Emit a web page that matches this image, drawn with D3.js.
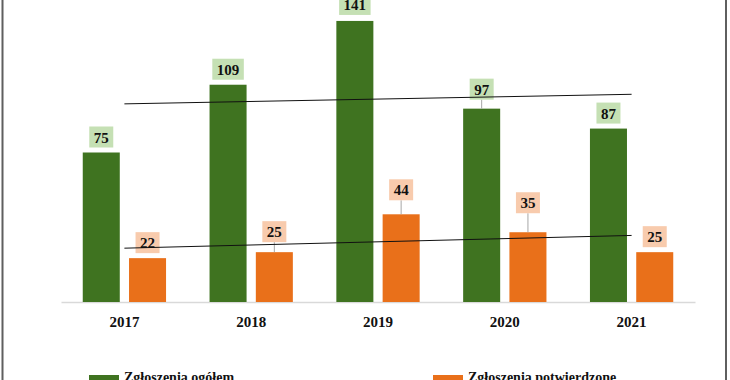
<!DOCTYPE html>
<html>
<head>
<meta charset="utf-8">
<script src="https://cdn.jsdelivr.net/npm/d3@7"></script>
<style>
  body { margin: 0; background: #fff; }
  svg text { font-family: "Liberation Serif", "Times New Roman", serif; font-weight: bold; }
</style>
</head>
<body>
<div id="vis"></div>
<script>
// data
const years = ['2017', '2018', '2019', '2020', '2021'];
const seriesNames = ['Zgłoszenia ogółem', 'Zgłoszenia potwierdzone'];
const totalReports = [75, 109, 141, 97, 87];
const confirmedReports = [22, 25, 44, 35, 25];

const width = 730, height = 380;
const baseY = 302;

const colors = {
  'Zgłoszenia ogółem': {bar: '#3f7320', box: '#c5e0b4'},
  'Zgłoszenia potwierdzone': {bar: '#e9701a', box: '#f8cbad'}
};

// some labels were pulled up in the original, with a leader line
const labelLift = {
  'Zgłoszenia ogółem|2019': 1,
  'Zgłoszenia ogółem|2020': 4,
  'Zgłoszenia potwierdzone|2018': 5,
  'Zgłoszenia potwierdzone|2019': 9,
  'Zgłoszenia potwierdzone|2020': 14
};

const svg = d3.select('#vis')
  .append('svg')
  .attr('width', width)
  .attr('height', height);

// frame
svg.append('rect')
  .attr('x', 2.5).attr('y', -10)
  .attr('width', 723.5).attr('height', height + 20)
  .attr('fill', 'none')
  .attr('stroke', '#5f5f5f')
  .attr('stroke-width', 2);

const xScale = d3.scaleBand()
  .domain(years)
  .range([61, 695]);

const xInner = d3.scaleBand()
  .domain(seriesNames)
  .range([0, xScale.bandwidth()])
  .paddingInner(0.2)
  .paddingOuter(0.47);

const yScale = d3.scaleLinear()
  .domain([0, 150])
  .range([baseY, 3]);

const series = [
  {name: seriesNames[0], values: totalReports},
  {name: seriesNames[1], values: confirmedReports}
];

const rows = [];
series.forEach(s => s.values.forEach((v, i) => rows.push({name: s.name, year: years[i], value: v})));

// axis line + year labels
const xAxis = d3.axisBottom(xScale).tickSize(0).tickPadding(14);
const axisG = svg.append('g')
  .attr('transform', `translate(0,${baseY})`)
  .call(xAxis);
axisG.select('.domain').attr('stroke', '#d9d9d9').attr('stroke-width', 1.5);
axisG.selectAll('.tick text')
  .attr('font-size', 15)
  .attr('font-family', '"Liberation Serif", serif')
  .attr('font-weight', 'bold')
  .attr('fill', '#111');

// bars
svg.selectAll('.bar')
  .data(rows)
  .join('rect')
  .attr('class', 'bar')
  .attr('x', d => xScale(d.year) + xInner(d.name))
  .attr('y', d => yScale(d.value))
  .attr('width', xInner.bandwidth())
  .attr('height', d => baseY - yScale(d.value))
  .attr('fill', d => colors[d.name].bar);

// data labels
const boxH = 21, gap = 5;
const labels = svg.selectAll('.lbl')
  .data(rows)
  .join('g')
  .attr('class', 'lbl');

labels.each(function(d) {
  const g = d3.select(this);
  const cx = xScale(d.year) + xInner(d.name) + xInner.bandwidth() / 2;
  const top = yScale(d.value);
  const lift = labelLift[d.name + '|' + d.year] || 0;
  const bottom = top - gap - lift;
  if (lift > 2) {
    g.append('line')
      .attr('x1', cx).attr('x2', cx)
      .attr('y1', bottom).attr('y2', top)
      .attr('stroke', '#a6a6a6').attr('stroke-width', 1);
  }
  const rect = g.append('rect').attr('fill', colors[d.name].box);
  const t = g.append('text')
    .attr('x', cx)
    .attr('y', bottom - 5)
    .attr('text-anchor', 'middle')
    .attr('font-size', 15)
    .attr('fill', '#111')
    .text(d.value);
  const w = t.node().getComputedTextLength() + 9;
  rect.attr('x', cx - w / 2).attr('y', bottom - boxH)
    .attr('width', w).attr('height', boxH);
});

// linear trend lines
series.forEach(s => {
  const n = s.values.length;
  const mx = (n - 1) / 2;
  const my = d3.mean(s.values);
  const slope = d3.sum(s.values, (v, i) => (i - mx) * (v - my)) / d3.sum(s.values, (v, i) => (i - mx) * (i - mx));
  const fit = i => my + slope * (i - mx);
  const cx = i => xScale(years[i]) + xScale.bandwidth() / 2;
  svg.append('line')
    .attr('x1', cx(0)).attr('y1', yScale(fit(0)))
    .attr('x2', cx(n - 1)).attr('y2', yScale(fit(n - 1)))
    .attr('stroke', '#111')
    .attr('stroke-width', 1);
});

// legend (cut off at the bottom in the original)
const legendPos = [89, 433];
const legend = svg.selectAll('.legend')
  .data(seriesNames)
  .join('g')
  .attr('class', 'legend')
  .attr('transform', (d, i) => `translate(${legendPos[i]},375)`);
legend.append('rect')
  .attr('width', 30).attr('height', 10)
  .attr('fill', d => colors[d].bar);
legend.append('text')
  .attr('x', 35).attr('y', 7)
  .attr('font-size', 14)
  .attr('fill', '#111')
  .text(d => d);
</script>
</body>
</html>
